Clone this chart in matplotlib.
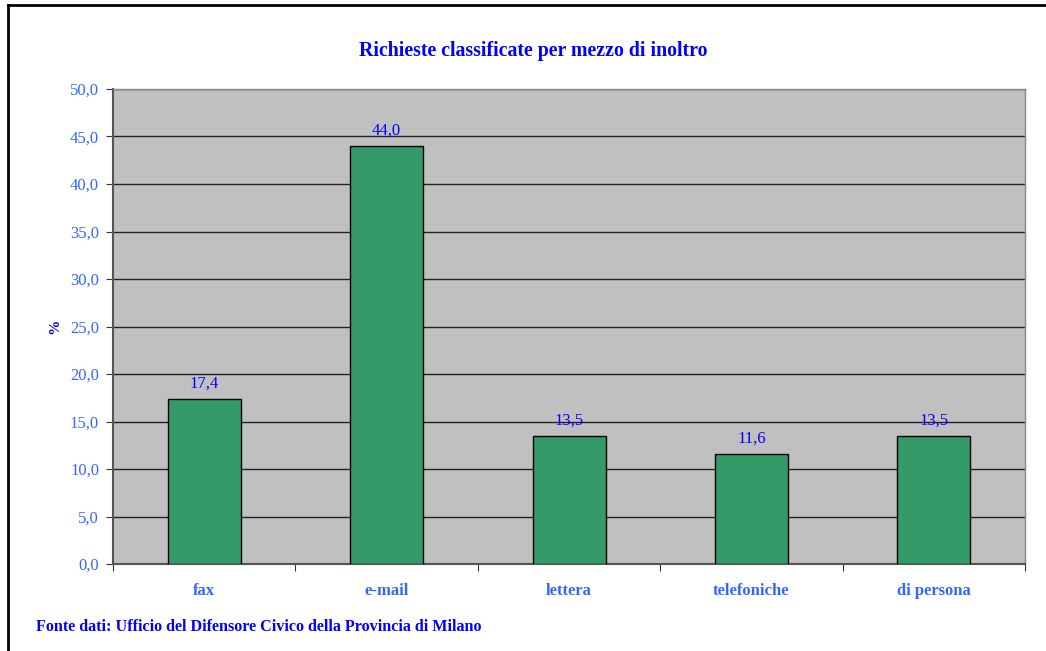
import numpy as np
import matplotlib.pyplot as plt
from matplotlib.lines import Line2D

# data
categories = ["fax", "e-mail", "lettera", "telefoniche", "di persona"]
values = [17.4, 44.0, 13.5, 11.6, 13.5]
yticks = [0, 5, 10, 15, 20, 25, 30, 35, 40, 45, 50]

plt.rcParams['font.family'] = ['Liberation Serif', 'DejaVu Serif']

fig = plt.figure(figsize=(10.46, 6.51), dpi=100)
ax = fig.add_axes([0.108, 0.1336, 0.872, 0.7297])

x = np.arange(len(categories))
ax.set_facecolor('#C0C0C0')
ax.bar(x, values, width=0.4, color='#339966', edgecolor='black', linewidth=1, zorder=3)

for xi, v in zip(x, values):
    ax.annotate(f"{v:.1f}".replace('.', ','), (xi, v), xytext=(0, 5), textcoords='offset points',
                ha='center', va='bottom', color='#0000FF', fontsize=12)

ax.set_xlim(-0.5, len(categories) - 0.5)
ax.set_ylim(0, 50)
ax.set_yticks(yticks)
ax.set_yticklabels([f"{t:.1f}".replace('.', ',') for t in yticks], color='#3366FF', fontsize=12)
ax.yaxis.grid(True, color='#222222', linewidth=1)
ax.set_axisbelow(True)

ax.set_xticks(np.arange(len(categories) + 1) - 0.5)
ax.set_xticklabels([])
ax.set_xticks(x, minor=True)
ax.set_xticklabels(categories, minor=True, color='#3366FF', fontsize=12, fontweight='bold')
ax.tick_params(axis='x', which='minor', length=0, pad=14)
ax.tick_params(axis='x', which='major', length=5, color='#333333')
ax.tick_params(axis='y', length=5, color='#333333', pad=5)

for s in ['left', 'bottom']:
    ax.spines[s].set_color('#555555')
    ax.spines[s].set_linewidth(1.5)
for s in ['top', 'right']:
    ax.spines[s].set_color('#888888')
    ax.spines[s].set_linewidth(1)

ax.set_ylabel('%', color='#0000FF', fontweight='bold', fontsize=11, labelpad=6)

fig.text(0.51, 0.921, 'Richieste classificate per mezzo di inoltro', ha='center', va='center',
         color='#0000FF', fontsize=14.3, fontweight='bold')
fig.text(0.034, 0.037, 'Fonte dati: Ufficio del Difensore Civico della Provincia di Milano',
         ha='left', va='center', color='#0000FF', fontsize=11.6, fontweight='bold')

# outer frame (only top and left edges visible in the reference)
fig.add_artist(Line2D([0.0076, 0.0076], [0, 0.9923], transform=fig.transFigure, color='black', linewidth=2))
fig.add_artist(Line2D([0.0076, 1.0], [0.9923, 0.9923], transform=fig.transFigure, color='black', linewidth=2))

fig.savefig('out.png', dpi=100)
